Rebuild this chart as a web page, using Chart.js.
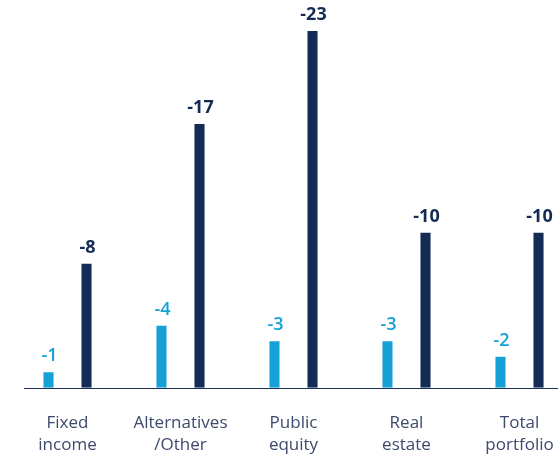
<!DOCTYPE html>
<html>
<head>
<meta charset="utf-8">
<script src="https://cdn.jsdelivr.net/npm/chart.js@4/dist/chart.umd.min.js"></script>
<style>
  html, body { margin: 0; padding: 0; background: #fff; overflow: hidden; }
  #wrap { position: relative; width: 580px; height: 476px; }
</style>
</head>
<body>
<div id="wrap"><canvas id="c"></canvas></div>
<script>
const categories = [["Fixed", "income"], ["Alternatives", "/Other"], ["Public", "equity"], ["Real", "estate"], ["Total", "portfolio"]];
const seriesA = [-1, -4, -3, -3, -2];
const seriesB = [-8, -17, -23, -10, -10];
const colorA = "#15A1D6";
const colorB = "#132B55";

const labelPlugin = {
  id: "barLabels",
  afterDatasetsDraw(chart) {
    const ctx = chart.ctx;
    ctx.save();
    ctx.textAlign = "center";
    ctx.textBaseline = "alphabetic";
    chart.data.datasets.forEach((ds, i) => {
      const meta = chart.getDatasetMeta(i);
      ctx.fillStyle = ds.labelColor;
      ctx.font = ds.labelFont;
      meta.data.forEach((bar, j) => {
        ctx.fillText(String(ds.data[j]), bar.x + 1, bar.y - 11);
      });
    });
    ctx.restore();
  }
};

const baselinePlugin = {
  id: "baseline",
  afterDatasetsDraw(chart) {
    const ctx = chart.ctx;
    const y = Math.round(chart.scales.y.getPixelForValue(0)) + 0.5;
    ctx.save();
    ctx.strokeStyle = "#1B2F55";
    ctx.lineWidth = 1.2;
    ctx.beginPath();
    ctx.moveTo(24, y);
    ctx.lineTo(chart.width, y);
    ctx.stroke();
    ctx.restore();
  }
};

new Chart(document.getElementById("c"), {
  type: "bar",
  data: {
    labels: categories,
    datasets: [
      { data: seriesA, backgroundColor: colorA, labelColor: colorA, labelFont: "600 18px 'Open Sans'" },
      { data: seriesB, backgroundColor: colorB, labelColor: colorB, labelFont: "bold 18px 'Open Sans'" }
    ]
  },
  options: {
    responsive: true,
    maintainAspectRatio: false,
    animation: false,
    devicePixelRatio: 1,
    layout: { padding: { left: 11, right: 4, top: 0, bottom: 4 } },
    plugins: { legend: { display: false }, tooltip: { enabled: false } },
    datasets: { bar: { categoryPercentage: 0.673, barPercentage: 0.265 } },
    scales: {
      x: {
        grid: { display: false },
        border: { display: false },
        ticks: {
          color: "#3D4A6C",
          font: { family: "'Open Sans'", size: 17, lineHeight: 1.3 },
          padding: 16,
          maxRotation: 0,
          autoSkip: false
        }
      },
      y: {
        display: false,
        reverse: true,
        min: -25,
        max: 0
      }
    }
  },
  plugins: [labelPlugin, baselinePlugin]
});
</script>
</body>
</html>
